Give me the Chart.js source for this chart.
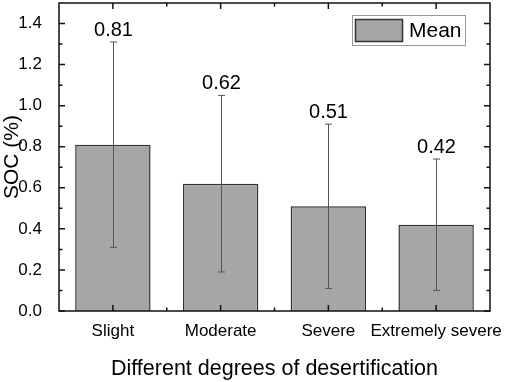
<!DOCTYPE html>
<html>
<head>
<meta charset="utf-8">
<script src="https://cdn.jsdelivr.net/npm/chart.js@4"></script>
<style>
  html, body { margin: 0; padding: 0; background: #fff; }
  #wrap { width: 505px; height: 382px; }
</style>
</head>
<body>
<div id="wrap"><canvas id="barChart"></canvas></div>
<script>
// categories and values
const categories = ['Slight', 'Moderate', 'Severe', 'Extremely severe'];
const meanValues = [0.81, 0.62, 0.51, 0.42];
const errLow = [0.31, 0.19, 0.11, 0.10];
const errHigh = [1.31, 1.05, 0.91, 0.74];
const yTicks = [0, 0.2, 0.4, 0.6, 0.8, 1.0, 1.2, 1.4];
const yMinorTicks = [0.1, 0.3, 0.5, 0.7, 0.9, 1.1, 1.3];

const FONT = '"Liberation Sans", Arial, sans-serif';

// error bars, value labels, inward ticks, frame and legend
const extras = {
  id: 'extras',
  afterDatasetsDraw(chart) {
    const ctx = chart.ctx;
    const x = chart.scales.x, y = chart.scales.y;
    const a = chart.chartArea;
    ctx.save();

    // error bars
    ctx.strokeStyle = '#555';
    ctx.lineWidth = 1;
    categories.forEach((c, i) => {
      const cx = Math.round(x.getPixelForValue(i)) + 0.5;
      const yt = y.getPixelForValue(errHigh[i]);
      const yb = y.getPixelForValue(errLow[i]);
      ctx.beginPath();
      ctx.moveTo(cx, yt); ctx.lineTo(cx, yb);
      ctx.moveTo(cx - 3.5, yt); ctx.lineTo(cx + 3.5, yt);
      ctx.moveTo(cx - 3.5, yb); ctx.lineTo(cx + 3.5, yb);
      ctx.stroke();
      // value label
      ctx.fillStyle = '#000';
      ctx.font = '20px ' + FONT;
      ctx.textAlign = 'center';
      ctx.textBaseline = 'middle';
      ctx.fillText(meanValues[i].toFixed(2), cx, yt - 12);
    });

    // ticks pointing inward
    ctx.strokeStyle = '#111';
    ctx.lineWidth = 1.5;
    ctx.beginPath();
    yTicks.forEach(v => {
      const py = y.getPixelForValue(v);
      ctx.moveTo(a.left, py); ctx.lineTo(a.left + 6, py);
      ctx.moveTo(a.right, py); ctx.lineTo(a.right - 6, py);
    });
    yMinorTicks.forEach(v => {
      const py = y.getPixelForValue(v);
      ctx.moveTo(a.left, py); ctx.lineTo(a.left + 3.5, py);
      ctx.moveTo(a.right, py); ctx.lineTo(a.right - 3.5, py);
    });
    categories.forEach((c, i) => {
      const px = x.getPixelForValue(i);
      ctx.moveTo(px, a.bottom); ctx.lineTo(px, a.bottom - 6);
      ctx.moveTo(px, a.top); ctx.lineTo(px, a.top + 6);
      if (i > 0) {
        const bx = x.getPixelForValue(i - 0.5);
        ctx.moveTo(bx, a.bottom); ctx.lineTo(bx, a.bottom - 3.5);
        ctx.moveTo(bx, a.top); ctx.lineTo(bx, a.top + 3.5);
      }
    });
    ctx.stroke();

    // frame
    ctx.strokeStyle = '#111';
    ctx.lineWidth = 1.5;
    ctx.strokeRect(a.left, a.top, a.right - a.left, a.bottom - a.top);

    // legend box
    const ds = chart.data.datasets[0];
    ctx.lineWidth = 1;
    ctx.strokeStyle = '#999';
    ctx.fillStyle = '#fff';
    ctx.fillRect(352.5, 15.5, 113, 30);
    ctx.strokeRect(352.5, 15.5, 113, 30);
    ctx.fillStyle = ds.backgroundColor;
    ctx.fillRect(355.5, 19.5, 47, 22);
    ctx.strokeStyle = ds.borderColor;
    ctx.lineWidth = 1.5;
    ctx.strokeRect(355.5, 19.5, 47, 22);
    ctx.fillStyle = '#000';
    ctx.font = '21px ' + FONT;
    ctx.textAlign = 'left';
    ctx.textBaseline = 'middle';
    ctx.fillText(ds.label, 409, 31);

    ctx.restore();
  }
};

new Chart(document.getElementById('barChart'), {
  type: 'bar',
  data: {
    labels: categories,
    datasets: [{
      label: 'Mean',
      data: meanValues,
      backgroundColor: '#a6a6a6',
      borderColor: '#333333',
      borderWidth: 1.5,
      barPercentage: 0.7,
      categoryPercentage: 1.0
    }]
  },
  options: {
    responsive: true,
    maintainAspectRatio: false,
    animation: false,
    layout: { padding: { top: 3, right: 15, left: 0, bottom: 0 } },
    plugins: {
      legend: { display: false },
      tooltip: { enabled: false }
    },
    scales: {
      x: {
        grid: { display: false },
        border: { display: false },
        ticks: { color: '#000', font: { family: FONT, size: 17 }, padding: 2, maxRotation: 0, autoSkip: false },
        title: {
          display: true,
          text: 'Different degrees of desertification',
          color: '#000',
          font: { family: FONT, size: 21.5 },
          padding: { top: 0, bottom: 0 }
        },
        afterFit: s => { s.height = 71; s.paddingLeft = 0; s.paddingRight = 0; }
      },
      y: {
        min: 0,
        max: 1.5,
        grid: { display: false },
        border: { display: false },
        afterBuildTicks: s => { s.ticks = yTicks.map(v => ({ value: v })); },
        ticks: {
          color: '#000',
          font: { family: FONT, size: 17 },
          padding: 9,
          callback: v => v.toFixed(1)
        },
        title: {
          display: true,
          text: 'SOC (%)',
          color: '#000',
          font: { family: FONT, size: 21 },
          padding: { top: 0, bottom: 0 }
        },
        afterFit: s => { s.width = 59; s.paddingTop = 0; s.paddingBottom = 0; }
      }
    }
  },
  plugins: [extras]
});
</script>
</body>
</html>
